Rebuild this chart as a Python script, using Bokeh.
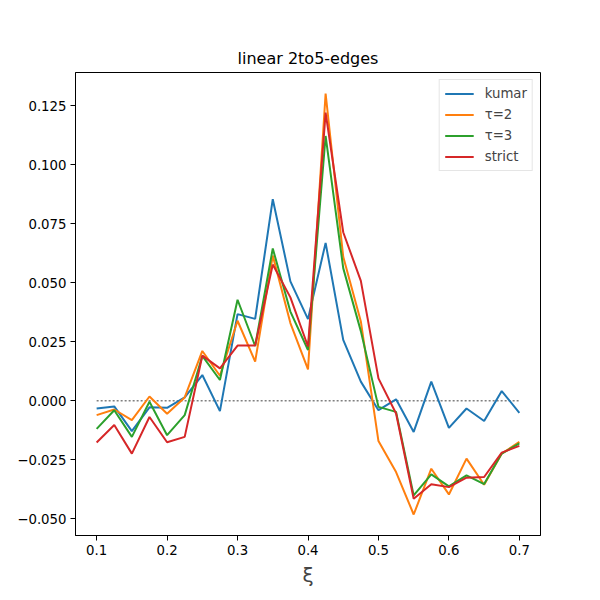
from bokeh.plotting import figure
from bokeh.models import Range1d, FixedTicker, CustomJSTickFormatter, Legend, LegendItem
from bokeh.embed import file_html
from bokeh.resources import INLINE

xi = [0.1, 0.125, 0.15, 0.175, 0.2, 0.225, 0.25, 0.275, 0.3, 0.325, 0.35, 0.375, 0.4,
      0.425, 0.45, 0.475, 0.5, 0.525, 0.55, 0.575, 0.6, 0.625, 0.65, 0.675, 0.7]

kumar = [-0.0033, -0.0024, -0.0129, -0.0028, -0.0030, 0.0014, 0.0109, -0.0044, 0.0367, 0.0347,
         0.0854, 0.0506, 0.0346, 0.0669, 0.0258, 0.0081, -0.0040, 0.0006, -0.0132, 0.0081,
         -0.0115, -0.0033, -0.0086, 0.0041, -0.0051]
tau2 = [-0.0061, -0.0037, -0.0082, 0.0018, -0.0055, 0.0014, 0.0211, 0.0106, 0.0339, 0.0166,
        0.0615, 0.0329, 0.0133, 0.1302, 0.0610, 0.0336, -0.0171, -0.0302, -0.0482, -0.0288,
        -0.0397, -0.0245, -0.0356, -0.0224, -0.0174]
tau3 = [-0.0119, -0.0040, -0.0153, -0.0004, -0.0146, -0.0061, 0.0190, 0.0088, 0.0428, 0.0232,
        0.0645, 0.0378, 0.0215, 0.1122, 0.0562, 0.0295, -0.0026, -0.0047, -0.0401, -0.0312,
        -0.0363, -0.0316, -0.0353, -0.0224, -0.0181]
strict = [-0.0177, -0.0103, -0.0224, -0.0069, -0.0176, -0.0153, 0.0191, 0.0137, 0.0234, 0.0234,
          0.0577, 0.0438, 0.0230, 0.1221, 0.0714, 0.0508, 0.0095, -0.0054, -0.0415, -0.0354,
          -0.0366, -0.0326, -0.0323, -0.0220, -0.0191]

series_names = ["kumar", "τ=2", "τ=3", "strict"]
series_colors = ["#1f77b4", "#ff7f0e", "#2ca02c", "#d62728"]

x_ticks = [0.1, 0.2, 0.3, 0.4, 0.5, 0.6, 0.7]
y_ticks = [-0.05, -0.025, 0.0, 0.025, 0.05, 0.075, 0.1, 0.125]
zero_level = [0.0, 0.0]

FONT = "DejaVu Sans"

p = figure(output_backend="svg", toolbar_location=None,
           x_range=Range1d(0.07, 0.73), y_range=Range1d(-0.0571, 0.1391),
           frame_width=465, frame_height=463,
           min_border_left=75, min_border_right=44, min_border_top=72, min_border_bottom=50,
           title="linear 2to5-edges")
p.background_fill_color = "white"
p.border_fill_color = "white"
p.grid.visible = False
p.outline_line_color = "black"
p.outline_line_width = 1
p.outline_line_alpha = 1

p.title.text_font = FONT
p.title.text_font_size = "16px"
p.title.text_font_style = "normal"
p.title.align = "center"
p.title.text_color = "black"

for ax in (p.xaxis[0], p.yaxis[0]):
    ax.major_label_text_font = FONT
    ax.major_label_text_font_size = "13.3px"
    ax.major_label_text_color = "black"
    ax.major_tick_out = 5
    ax.major_tick_in = 0
    ax.minor_tick_out = 0
    ax.minor_tick_in = 0
    ax.axis_line_color = "black"
    ax.major_tick_line_color = "black"
    ax.major_label_standoff = 4

p.xaxis.ticker = FixedTicker(ticks=x_ticks, minor_ticks=[])
p.yaxis.ticker = FixedTicker(ticks=y_ticks, minor_ticks=[])
p.xaxis.formatter = CustomJSTickFormatter(code="return tick.toFixed(1);")
p.yaxis.formatter = CustomJSTickFormatter(code="return tick.toFixed(3).replace('-', '\u2212');")

p.xaxis.axis_label = "ξ"
p.xaxis.axis_label_text_font = FONT
p.xaxis.axis_label_text_font_size = "20px"
p.xaxis.axis_label_text_font_style = "normal"
p.xaxis.axis_label_standoff = 5

p.line([xi[0], xi[-1]], zero_level, line_color="gray", line_width=1.5, line_dash="2 2")

items = []
for name, col, ys in zip(series_names, series_colors, [kumar, tau2, tau3, strict]):
    r = p.line(xi, ys, line_color=col, line_width=2)
    items.append(LegendItem(label=name, renderers=[r]))

legend = Legend(items=items, location="top_right")
legend.label_text_font = FONT
legend.label_text_font_size = "13.3px"
legend.glyph_width = 29
legend.glyph_height = 17
legend.label_height = 17
legend.spacing = 4
legend.padding = 5
legend.margin = 7
legend.label_standoff = 11
legend.border_line_color = "#cccccc"
legend.border_line_width = 1
legend.background_fill_alpha = 0.8
p.add_layout(legend)

open("out.html", "w").write(file_html(p, INLINE))
